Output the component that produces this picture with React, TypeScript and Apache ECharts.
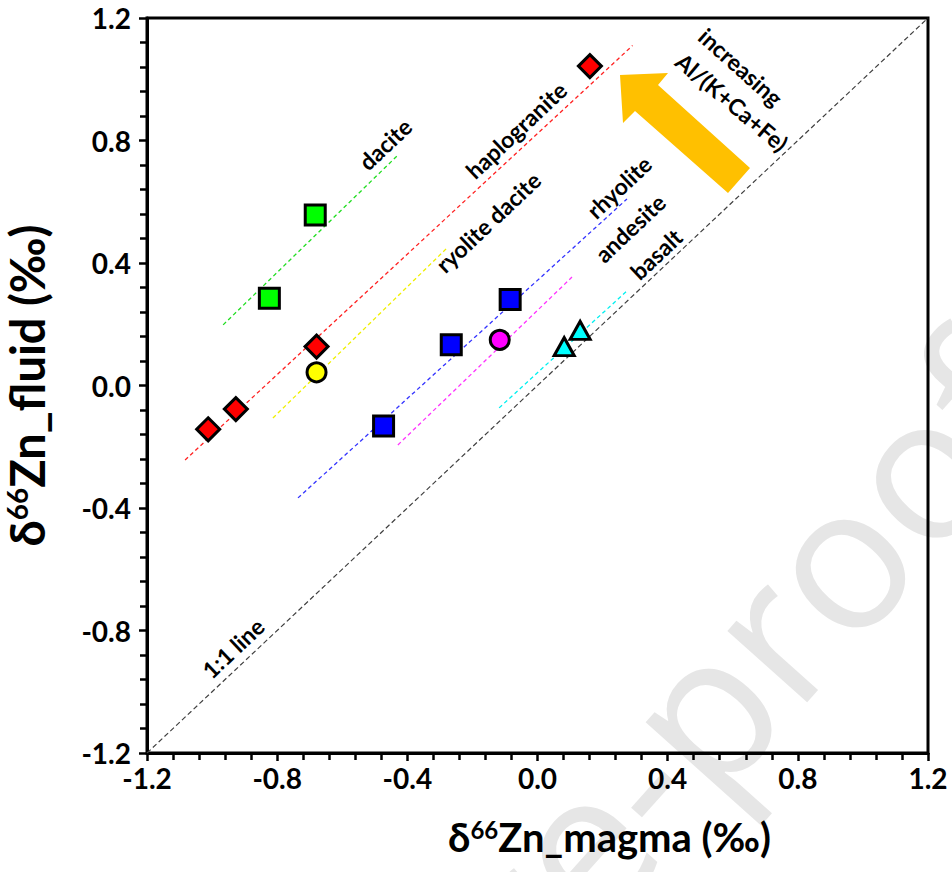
import React, { useEffect, useRef } from 'react';
import * as echarts from 'echarts';

const FONT = 'Lato, "Open Sans", sans-serif';

// tick labels
const xTickLabels = ['-1.2', '-0.8', '-0.4', '0.0', '0.4', '0.8', '1.2'];
const yTickLabels = ['-1.2', '-0.8', '-0.4', '0.0', '0.4', '0.8', '1.2'];

// data points (δ66Zn_magma, δ66Zn_fluid)
const haplograniteX = [-1.012, -0.927, -0.679, 0.161];
const haplograniteY = [-0.143, -0.077, 0.127, 1.043];
const daciteX = [-0.824, -0.683];
const daciteY = [0.285, 0.557];
const ryoliteDaciteX = [-0.679];
const ryoliteDaciteY = [0.043];
const rhyoliteX = [-0.473, -0.265, -0.084];
const rhyoliteY = [-0.132, 0.133, 0.281];
const andesiteX = [-0.116];
const andesiteY = [0.149];
const basaltX = [0.082, 0.131];
const basaltY = [0.127, 0.18];

// dashed trend lines: endpoints
const daciteLineX = [-0.966, -0.432];
const daciteLineY = [0.198, 0.749];
const haplograniteLineX = [-1.083, 0.292];
const haplograniteLineY = [-0.243, 1.11];
const ryoliteDaciteLineX = [-0.813, -0.278];
const ryoliteDaciteLineY = [-0.106, 0.449];
const rhyoliteLineX = [-0.736, 0.275];
const rhyoliteLineY = [-0.367, 0.609];
const andesiteLineX = [-0.429, 0.106];
const andesiteLineY = [-0.194, 0.354];
const basaltLineX = [-0.118, 0.278];
const basaltLineY = [-0.073, 0.312];
const oneToOneX = [-1.2, 1.2];
const oneToOneY = [-1.2, 1.2];

const zip = (xs: number[], ys: number[]) => xs.map((x, i) => [x, ys[i]]);

const tickFormatter = (labels: string[]) => (v: number) => {
  const idx = Math.round((v + 1.2) / 0.4);
  return labels[idx] ?? v.toFixed(1);
};

function lineSeries(xs: number[], ys: number[], color: string, dash: number[], width = 1.3) {
  return {
    type: 'line',
    data: zip(xs, ys),
    symbol: 'none',
    silent: true,
    z: 1,
    lineStyle: { color, width, type: dash },
  };
}

function scatterSeries(name: string, xs: number[], ys: number[], color: string, symbol: string, size: any) {
  return {
    name,
    type: 'scatter',
    data: zip(xs, ys),
    symbol,
    symbolSize: size,
    z: 5,
    itemStyle: { color, borderColor: '#000', borderWidth: 3, opacity: 1 },
  };
}

const axisCommon = {
  type: 'value',
  min: -1.2,
  max: 1.2,
  interval: 0.4,
  axisLine: { show: true, onZero: false, lineStyle: { color: '#000', width: 3 } },
  axisTick: { show: true, inside: false, length: 8, lineStyle: { color: '#000', width: 2.5 } },
  minorTick: { show: true, splitNumber: 5, length: 7, lineStyle: { color: '#000', width: 2.5 } },
  splitLine: { show: false },
  minorSplitLine: { show: false },
};

const labelStyle = { fontFamily: FONT, fontWeight: 'bold', fontSize: 28, color: '#000' };

const xTitleRich = {
  t: { fontFamily: FONT, fontWeight: 'bold', fontSize: 40, color: '#000' },
  s: { fontFamily: FONT, fontWeight: 'bold', fontSize: 24, color: '#000', verticalAlign: 'top' },
};
const yTitleRich = {
  t: { fontFamily: FONT, fontWeight: 'bold', fontSize: 47, color: '#000' },
  s: { fontFamily: FONT, fontWeight: 'bold', fontSize: 28, color: '#000', verticalAlign: 'top' },
};

const ANG = 0.756;
const annot = (text: string, x: number, y: number, rotation: number) => ({
  type: 'text',
  x,
  y,
  rotation,
  z: 10,
  style: {
    text,
    fontFamily: FONT,
    fontWeight: 'bold',
    fontSize: 23,
    fill: '#000',
    align: 'center',
    verticalAlign: 'middle',
  },
});

const option = {
  animation: false,
  backgroundColor: '#fff',
  grid: {
    left: 147,
    top: 18,
    width: 781,
    height: 735,
    containLabel: false,
    outerBoundsMode: 'none',
    show: true,
    borderColor: '#000',
    borderWidth: 3,
    backgroundColor: 'transparent',
  },
  xAxis: {
    ...axisCommon,
    position: 'bottom',
    axisLabel: { ...labelStyle, margin: 11, formatter: tickFormatter(xTickLabels) },
    name: '{t|δ}{s|66}{t|Zn_magma (‰)}',
    nameLocation: 'middle',
    nameGap: 64,
    nameTextStyle: { rich: xTitleRich, padding: [0, 0, 0, 144] },
  },
  yAxis: {
    ...axisCommon,
    position: 'left',
    axisLabel: { ...labelStyle, margin: 16, formatter: tickFormatter(yTickLabels) },
    name: '{t|δ}{s|66}{t|Zn_fluid (‰)}',
    nameLocation: 'middle',
    nameRotate: 90,
    nameGap: 97,
    nameTextStyle: { rich: yTitleRich },
  },
  graphic: [
    {
      type: 'text',
      x: 484,
      y: 947,
      rotation: 0.84,
      z: -10,
      silent: true,
      style: {
        text: 're-proof',
        fontFamily: '"Open Sans", sans-serif',
        fontSize: 200,
        fill: '#e6e6e6',
        align: 'left',
        verticalAlign: 'middle',
      },
    },
    {
      type: 'polygon',
      z: 8,
      shape: {
        points: [
          [620, 75],
          [668, 73],
          [658, 85],
          [750, 168],
          [728, 193],
          [635, 111],
          [623, 123],
        ],
      },
      style: { fill: '#FFC000' },
    },
    annot('dacite', 385, 144, ANG),
    annot('haplogranite', 516, 130, ANG),
    annot('ryolite dacite', 488, 222, ANG),
    annot('rhyolite', 619, 187, ANG),
    annot('andesite', 630, 228, ANG),
    annot('basalt', 656, 254, ANG),
    annot('1:1 line', 233, 648, ANG),
    annot('increasing', 741, 67, -0.73),
    annot('Al/(K+Ca+Fe)', 732, 102, -0.7),
  ],
  series: [
    lineSeries(oneToOneX, oneToOneY, '#404040', [5, 3], 1.2),
    lineSeries(daciteLineX, daciteLineY, '#22dd22', [4, 3]),
    lineSeries(haplograniteLineX, haplograniteLineY, '#ff2222', [4, 3]),
    lineSeries(ryoliteDaciteLineX, ryoliteDaciteLineY, '#f0f000', [4, 3]),
    lineSeries(rhyoliteLineX, rhyoliteLineY, '#3333ff', [4, 3]),
    lineSeries(andesiteLineX, andesiteLineY, '#ff33ff', [4, 3]),
    lineSeries(basaltLineX, basaltLineY, '#00f0f0', [4, 3]),
    scatterSeries('haplogranite', haplograniteX, haplograniteY, '#ff0000', 'diamond', 23),
    scatterSeries('dacite', daciteX, daciteY, '#00ff00', 'rect', 20),
    scatterSeries('ryolite dacite', ryoliteDaciteX, ryoliteDaciteY, '#ffff00', 'circle', 19),
    scatterSeries('rhyolite', rhyoliteX, rhyoliteY, '#0000ff', 'rect', 20),
    scatterSeries('andesite', andesiteX, andesiteY, '#ff00ff', 'circle', 19),
    scatterSeries('basalt', basaltX, basaltY, '#00ffff', 'triangle', [20, 18]),
  ],
};

export default function App() {
  const ref = useRef<HTMLDivElement>(null);
  useEffect(() => {
    if (!ref.current) return;
    const chart = echarts.init(ref.current, undefined, { renderer: 'svg' });
    chart.setOption(option as any);
    return () => chart.dispose();
  }, []);
  return (
    <div
      ref={ref}
      style={{ position: 'fixed', left: 0, top: 0, width: 952, height: 872, background: '#fff' }}
    />
  );
}
